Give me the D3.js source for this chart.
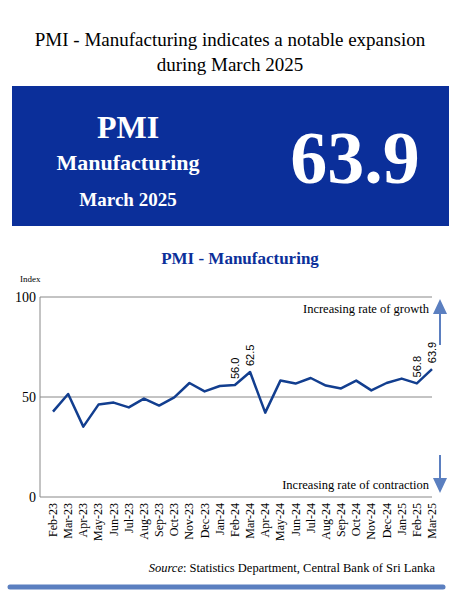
<!DOCTYPE html>
<html><head><meta charset="utf-8">
<script src="https://cdn.jsdelivr.net/npm/d3@7"></script>
<style>body{margin:0;background:#fff}</style>
</head><body><svg width="461" height="599"></svg>
<script>
const months = ["Feb-23","Mar-23","Apr-23","May-23","Jun-23","Jul-23","Aug-23","Sep-23","Oct-23","Nov-23","Dec-23","Jan-24","Feb-24","Mar-24","Apr-24","May-24","Jun-24","Jul-24","Aug-24","Sep-24","Oct-24","Nov-24","Dec-24","Jan-25","Feb-25","Mar-25"];
const pmi = [42.7,51.5,35.2,46.2,47.2,44.8,49.2,45.7,49.8,57.0,52.8,55.5,56.0,62.5,42.2,58.2,56.7,59.5,55.7,54.3,58.2,53.3,57.0,59.2,56.8,63.9];
const labelled = ["Feb-24","Mar-24","Feb-25","Mar-25"];
const yTicks = [0,50,100];

const svg = d3.select("svg").attr("font-family","Liberation Serif, serif");
const blue = "#0b2f9a";

// heading
svg.append("text").attr("x",230).attr("y",46).attr("text-anchor","middle").attr("font-size",19).text("PMI - Manufacturing indicates a notable expansion");
svg.append("text").attr("x",230).attr("y",71).attr("text-anchor","middle").attr("font-size",19).text("during March 2025");

// blue banner
svg.append("rect").attr("x",12).attr("y",86).attr("width",437).attr("height",140).attr("fill",blue);
const bt = [["PMI",138,32],["Manufacturing",170,22],["March 2025",206,19]];
bt.forEach(([t,y,s]) => svg.append("text").attr("x",128).attr("y",y).attr("text-anchor","middle")
  .attr("font-size",s).attr("font-weight","bold").attr("fill","#fff").text(t));
svg.append("text").attr("x",355).attr("y",183).attr("text-anchor","middle").attr("font-size",74)
  .attr("font-weight","bold").attr("fill","#fff").text(pmi[pmi.length-1].toFixed(1));

// chart
svg.append("text").attr("x",240).attr("y",264).attr("text-anchor","middle").attr("font-size",17)
  .attr("font-weight","bold").attr("fill",blue).text("PMI - Manufacturing");
svg.append("text").attr("x",20).attr("y",282).attr("font-size",9).text("Index");

const x = d3.scalePoint().domain(months).range([53,432]);
const y = d3.scaleLinear().domain([0,100]).range([497,297]);
const L = 40, R = 432;

svg.append("g").selectAll("line").data(yTicks.filter(d=>d>0)).join("line")
  .attr("x1",L).attr("x2",R).attr("y1",y).attr("y2",y).attr("stroke","#888").attr("stroke-width",1);
svg.append("line").attr("x1",L).attr("x2",L).attr("y1",y(100)).attr("y2",y(0)).attr("stroke","#888");
svg.append("line").attr("x1",L).attr("x2",R).attr("y1",y(0)).attr("y2",y(0)).attr("stroke","#888");
svg.append("g").selectAll("text").data(yTicks).join("text")
  .attr("x",L-4).attr("y",d=>y(d)+5).attr("text-anchor","end").attr("font-size",14).text(d=>d);

svg.append("path").datum(pmi).attr("fill","none").attr("stroke","#123e8f").attr("stroke-width",2.5)
  .attr("stroke-linejoin","round")
  .attr("d",d3.line().x((d,i)=>x(months[i])).y(d=>y(d)));

svg.append("g").selectAll("text").data(labelled).join("text")
  .attr("transform",m=>`translate(${x(m)+4},${y(pmi[months.indexOf(m)])-6}) rotate(-90)`)
  .attr("font-family","Liberation Sans, Arial, sans-serif").attr("font-size",11)
  .text(m=>pmi[months.indexOf(m)].toFixed(1));

svg.append("g").selectAll("text").data(months).join("text")
  .attr("transform",m=>`translate(${x(m)+4},${y(0)+6}) rotate(-90)`)
  .attr("text-anchor","end").attr("font-size",12).text(m=>m);

// arrows
const ac = "#5b7fc0";
svg.append("line").attr("x1",440).attr("x2",440).attr("y1",345).attr("y2",312).attr("stroke",ac).attr("stroke-width",2);
svg.append("path").attr("d","M433,314 L440,299 L447,314 Z").attr("fill",ac);
svg.append("line").attr("x1",440).attr("x2",440).attr("y1",455).attr("y2",480).attr("stroke",ac).attr("stroke-width",2);
svg.append("path").attr("d","M433,478 L440,493 L447,478 Z").attr("fill",ac);
svg.append("text").attr("x",429).attr("y",313).attr("text-anchor","end").attr("font-size",12.5).text("Increasing rate of growth");
svg.append("text").attr("x",429).attr("y",489).attr("text-anchor","end").attr("font-size",12.5).text("Increasing rate of contraction");

const src = svg.append("text").attr("x",435).attr("y",572).attr("text-anchor","end").attr("font-size",12.5);
src.append("tspan").attr("font-style","italic").text("Source");
src.append("tspan").text(": Statistics Department, Central Bank of Sri Lanka");
svg.append("line").attr("x1",10).attr("x2",443).attr("y1",587).attr("y2",587).attr("stroke",ac)
  .attr("stroke-width",5).attr("stroke-linecap","round");
</script></body></html>
